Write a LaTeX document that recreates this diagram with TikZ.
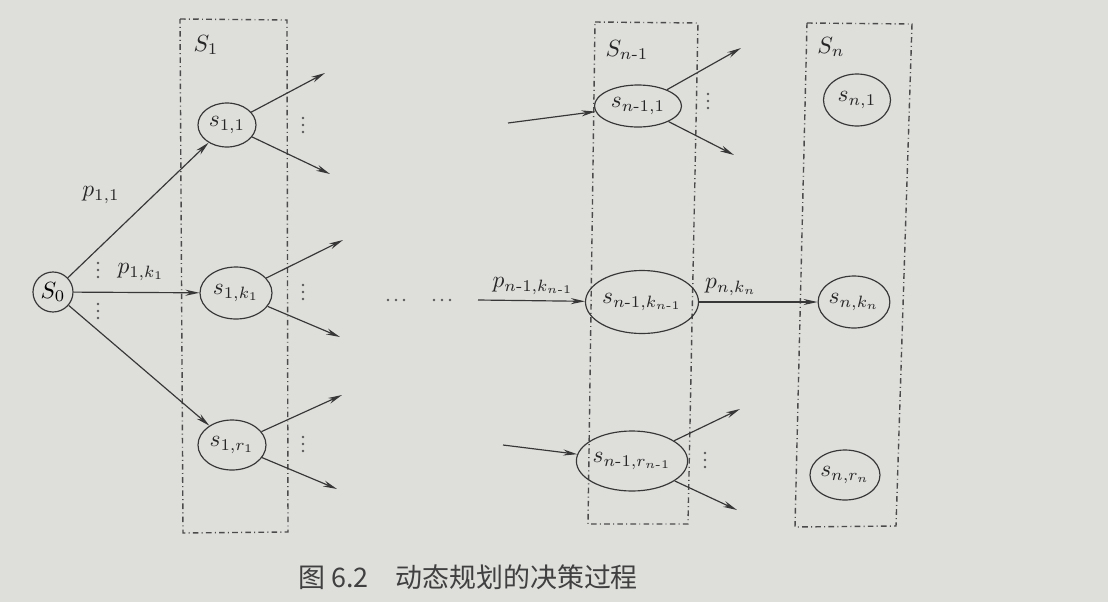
\documentclass[tikz,border=0pt]{standalone}
\usepackage{amsmath}
\usepackage{fontspec}
\newfontfamily\cjk{Noto Sans CJK SC}
\usetikzlibrary{shapes.geometric,arrows.meta}
\definecolor{paper}{RGB}{222,222,219}
\definecolor{ink}{RGB}{55,55,55}
\definecolor{boxink}{RGB}{75,75,75}
\newcommand{\mo}{\text{-}1}
\newcommand{\vdotsat}[2]{\foreach \k in {-7,0,7} {\fill[black!65] (#1,#2+\k) circle[radius=0.6pt];}}
\newcommand{\hdotsat}[2]{\foreach \k in {-8,0,8} {\fill[black!65] (#1+\k,#2) circle[radius=0.6pt];}}
\tikzset{
  st/.style 2 args={ellipse, draw=ink, line width=0.5pt, inner sep=0pt,
    minimum width=#1*0.015cm, minimum height=#2*0.015cm, text=black!85},
  arr/.style={draw=ink, line width=0.5pt, -{Stealth[length=6pt,width=2.6pt]}},
  frame/.style={draw=boxink, line width=0.6pt,
    dash pattern=on 2.4pt off 1.4pt on 0.4pt off 1.4pt},
  lbl/.style={inner sep=0pt, text=black!85}
}
\begin{document}
\begin{tikzpicture}[x=0.015cm,y=-0.015cm]
\fill[paper] (0,0) rectangle (1108,602);
\useasboundingbox (0,0) rectangle (1108,602);

% frames
\draw[frame] (180,19) -- (287,20) -- (288,532) -- (183,533) -- cycle;
\draw[frame] (595,22) -- (698,23) -- (688,524) -- (588,524) -- cycle;
\draw[frame] (807,23) -- (912,24) -- (896,526) -- (795,527) -- cycle;

\node[lbl] (L1) at (206,45) {$S_1$};
\node[lbl] (Ln1) at (627,50) {$S_{n\mo}$};
\node[lbl] (Ln) at (831,47) {$S_n$};

% S0
\node[circle, draw=ink, line width=0.5pt, minimum size=40*0.015cm, inner sep=0pt] (s0) at (53,292) {$S_0$};

% stage 1
\node[st={58}{44}] (s11) at (227,125) {$s_{1,1}$};
\node[st={72}{52}] (s1k) at (236,293) {$s_{1,k_1}$};
\node[st={68}{50}] (s1r) at (232,445) {$s_{1,r_1}$};

\draw[arr] (s0) -- (s11);
\draw[arr] (s0) -- (s1k);
\draw[arr] (s0) -- (s1r);
\node[lbl] (p11) at (101,195) {$p_{1,1}$};
\node[lbl] (p1k) at (141,272) {$p_{1,k_1}$};
\vdotsat{98}{270}
\vdotsat{98}{311}

\coordinate (e11a) at (325,73);
\coordinate (e11b) at (330,174);
\coordinate (e1ka) at (343,240);
\coordinate (e1kb) at (340,337);
\coordinate (e1ra) at (342,395);
\coordinate (e1rb) at (337,489);
\draw[arr] (s11) -- (e11a);
\draw[arr] (s11) -- (e11b);
\draw[arr] (s1k) -- (e1ka);
\draw[arr] (s1k) -- (e1kb);
\draw[arr] (s1r) -- (e1ra);
\draw[arr] (s1r) -- (e1rb);
\vdotsat{303}{125}
\vdotsat{303}{292}
\vdotsat{303}{444}

% middle ellipsis
\hdotsat{396}{300}
\hdotsat{442}{300}

% stage n-1
\node[st={87}{42}] (sn1) at (638,106) {$s_{n\mo,1}$};
\node[st={95}{63}] (snk) at (642,302) {$s_{n\mo,k_{n\mo}}$};
\node[st={92}{60}] (snr) at (632,461) {$s_{n\mo,r_{n\mo}}$};

\coordinate (i1) at (508,123);
\coordinate (ik) at (478,300);
\coordinate (ir) at (503,445);
\draw[arr] (i1) -- (sn1);
\draw[arr] (ik) -- (snk);
\draw[arr] (ir) -- (snr);
\node[lbl] (pnk1) at (533,286) {$p_{n\mo,k_{n\mo}}$};

\coordinate (o1a) at (741,48);
\coordinate (o1b) at (734,155);
\coordinate (ora) at (740,409);
\coordinate (orb) at (737,510);
\draw[arr] (sn1) -- (o1a);
\draw[arr] (sn1) -- (o1b);
\draw[arr] (snr) -- (ora);
\draw[arr] (snr) -- (orb);
\vdotsat{708}{101}
\vdotsat{705}{460}

% stage n
\node[st={67}{52}] (sm1) at (857,100) {$s_{n,1}$};
\node[st={70}{52}] (smk) at (854,302) {$s_{n,k_n}$};
\node[st={67}{50}] (smr) at (845,475) {$s_{n,r_n}$};
\draw[arr] (snk) -- (smk);
\node[lbl] (pnk) at (731,287) {$p_{n,k_n}$};

% caption
\node[lbl, font=\cjk\fontsize{11.5}{13}\selectfont, text=black!75] (cap) at (468,577) {图 6.2\quad 动态规划的决策过程};
\end{tikzpicture}
\end{document}
